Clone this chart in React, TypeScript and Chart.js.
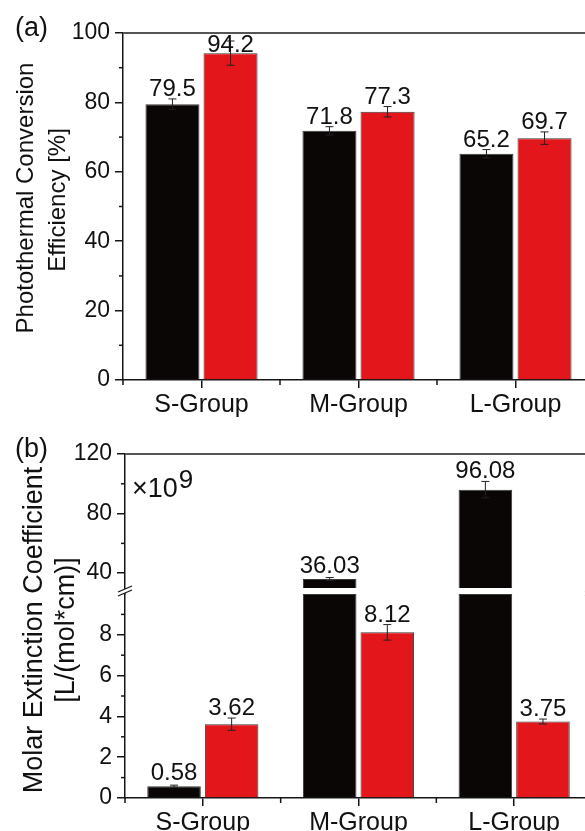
import React, { useEffect, useRef } from 'react';
import { Chart, registerables } from 'chart.js';
Chart.register(...registerables);

// ---------- data ----------
const categories = ['S-Group', 'M-Group', 'L-Group'];

const effBlack = [79.5, 71.8, 65.2];
const effRed = [94.2, 77.3, 69.7];
const effBlackErr = [1.5, 1.2, 1.2];
const effRedErr = [3.5, 1.5, 1.8];
const effMajorTicks = [0, 20, 40, 60, 80, 100];
const effMinorTicks = [10, 30, 50, 70, 90];

const molBlack = [0.58, 36.03, 96.08];
const molRed = [3.62, 8.12, 3.75];
const molBlackErr = [0.05, 1.0, 5.5];
const molRedErr = [0.3, 0.38, 0.12];
const molLowMajorTicks = [0, 2, 4, 6, 8];
const molLowMinorTicks = [1, 3, 5, 7, 9];
const molHighMajorTicks = [40, 80, 120];
const molHighMinorTicks = [60, 100];
const BREAK_LOW = 10;
const BREAK_HIGH = 30;

// ---------- style ----------
const FAMILY = "'Liberation Sans', Arial, sans-serif";
const BLACK = '#0a0605';
const RED = '#e3161b';
const EDGE = '#3a3a3a';
const AXIS = '#161616';
const TEXT = '#111111';
const CW = 600;
const A_H = 418;
const B_H = 413;

const TICK_FONT = 23;
const XLABEL_FONT = 25;
const VALUE_FONT = 24;
const PANEL_FONT = 27;

function axisBase(fontSize: number) {
  return {
    grid: { display: true, drawOnChartArea: false, drawTicks: true, tickLength: 8, color: AXIS, lineWidth: 1.5 },
    border: { display: true, color: AXIS, width: 1.5 },
    ticks: { color: TEXT, font: { family: FAMILY, size: fontSize }, padding: 5, autoSkip: false },
  };
}

function xAxis(height: number) {
  return {
    grid: { display: true, drawOnChartArea: false, drawTicks: true, tickLength: 8, color: AXIS, lineWidth: 1.5, offset: false },
    border: { display: true, color: AXIS, width: 1.5 },
    ticks: { color: TEXT, font: { family: FAMILY, size: XLABEL_FONT }, padding: 2, maxRotation: 0, autoSkip: false },
    afterFit: (s: any) => { s.height = height; },
  };
}

function line(ctx: CanvasRenderingContext2D, x1: number, y1: number, x2: number, y2: number) {
  ctx.beginPath();
  ctx.moveTo(x1, y1);
  ctx.lineTo(x2, y2);
  ctx.stroke();
}

// rotated text: x is the baseline position, y is the centre along the text
function rotatedText(ctx: CanvasRenderingContext2D, text: string, xBase: number, yCenter: number, size: number) {
  ctx.save();
  ctx.translate(xBase, yCenter);
  ctx.rotate(-Math.PI / 2);
  ctx.font = `${size}px ${FAMILY}`;
  ctx.fillStyle = TEXT;
  ctx.textAlign = 'center';
  ctx.textBaseline = 'alphabetic';
  ctx.fillText(text, 0, 0);
  ctx.restore();
}

function errorBar(ctx: CanvasRenderingContext2D, x: number, yTop: number, yBot: number) {
  ctx.save();
  ctx.strokeStyle = '#222';
  ctx.lineWidth = 1;
  line(ctx, x, yTop, x, yBot);
  line(ctx, x - 4, yTop, x + 4, yTop);
  line(ctx, x - 4, yBot, x + 4, yBot);
  ctx.restore();
}

function valueLabel(ctx: CanvasRenderingContext2D, text: string, x: number, barTop: number, errTop: number, areaTop: number) {
  ctx.save();
  ctx.font = `${VALUE_FONT}px ${FAMILY}`;
  ctx.fillStyle = TEXT;
  ctx.textAlign = 'center';
  ctx.textBaseline = 'alphabetic';
  let base = Math.min(barTop - 6, errTop - 3);
  const minBase = areaTop + 2 + VALUE_FONT * 0.72;
  if (base < minBase) base = minBase;
  ctx.fillText(text, x, base);
  ctx.restore();
}

function frameAndXMinor(chart: any) {
  const ctx: CanvasRenderingContext2D = chart.ctx;
  const { left, right, top, bottom } = chart.chartArea;
  ctx.save();
  ctx.strokeStyle = '#555';
  ctx.lineWidth = 2;
  line(ctx, left, top, right, top);
  ctx.strokeStyle = AXIS;
  ctx.lineWidth = 1.5;
  const xs = chart.scales.x;
  for (let i = 0; i <= categories.length; i++) {
    const px = xs.getPixelForValue(i - 0.5);
    line(ctx, px, bottom, px, bottom + 5);
  }
  ctx.restore();
}

function yMinor(chart: any, scaleId: string, values: number[]) {
  const ctx: CanvasRenderingContext2D = chart.ctx;
  const s = chart.scales[scaleId];
  ctx.save();
  ctx.strokeStyle = AXIS;
  ctx.lineWidth = 1.5;
  for (const v of values) {
    const py = s.getPixelForValue(v);
    line(ctx, s.right - 4, py, s.right, py);
  }
  ctx.restore();
}

function panelLabel(ctx: CanvasRenderingContext2D, text: string, x: number, base: number) {
  ctx.save();
  ctx.font = `${PANEL_FONT}px ${FAMILY}`;
  ctx.fillStyle = TEXT;
  ctx.textAlign = 'left';
  ctx.textBaseline = 'alphabetic';
  ctx.fillText(text, x, base);
  ctx.restore();
}

// ---------- panel (a) ----------
function configA(): any {
  const decor = {
    id: 'decorA',
    afterDatasetsDraw(chart: any) {
      const ctx: CanvasRenderingContext2D = chart.ctx;
      const y = chart.scales.y;
      const series = [
        { vals: effBlack, errs: effBlackErr, ds: 0 },
        { vals: effRed, errs: effRedErr, ds: 1 },
      ];
      for (const s of series) {
        const meta = chart.getDatasetMeta(s.ds);
        s.vals.forEach((v, i) => {
          const el = meta.data[i];
          const top = y.getPixelForValue(v);
          const eTop = y.getPixelForValue(v + s.errs[i]);
          const eBot = y.getPixelForValue(v - s.errs[i]);
          errorBar(ctx, el.x, eTop, eBot);
          valueLabel(ctx, v.toFixed(1), el.x, top, eTop, chart.chartArea.top);
        });
      }
    },
    afterDraw(chart: any) {
      const ctx: CanvasRenderingContext2D = chart.ctx;
      frameAndXMinor(chart);
      yMinor(chart, 'y', effMinorTicks);
      rotatedText(ctx, 'Photothermal Conversion', 33, 198, 24);
      rotatedText(ctx, 'Efficiency [%]', 65, 200, 24);
      panelLabel(ctx, '(a)', 15, 36);
    },
  };
  const bar = { borderColor: EDGE, borderWidth: 1, barPercentage: 0.93, categoryPercentage: 0.74 };
  return {
    type: 'bar',
    data: {
      labels: categories,
      datasets: [
        { label: 'black', data: effBlack, backgroundColor: BLACK, ...bar },
        { label: 'red', data: effRed, backgroundColor: RED, ...bar },
      ],
    },
    options: {
      responsive: false,
      animation: false,
      devicePixelRatio: 1,
      layout: { padding: { left: 0, top: 33, right: CW - 594, bottom: 0 } },
      plugins: { legend: { display: false }, tooltip: { enabled: false }, title: { display: false } },
      scales: {
        x: xAxis(A_H - 380),
        y: {
          ...axisBase(TICK_FONT),
          min: 0,
          max: 100,
          afterBuildTicks: (s: any) => { s.ticks = effMajorTicks.map((v) => ({ value: v })); },
          afterFit: (s: any) => { s.width = 123; },
        },
      },
    },
    plugins: [decor],
  };
}

// ---------- panel (b) ----------
function configB(): any {
  const decor = {
    id: 'decorB',
    afterDatasetsDraw(chart: any) {
      const ctx: CanvasRenderingContext2D = chart.ctx;
      const series = [
        { vals: molBlack, errs: molBlackErr, low: 0, high: 2 },
        { vals: molRed, errs: molRedErr, low: 1, high: 3 },
      ];
      for (const s of series) {
        s.vals.forEach((v, i) => {
          const useHigh = v > BREAK_LOW;
          const meta = chart.getDatasetMeta(useHigh ? s.high : s.low);
          const sc = chart.scales[useHigh ? 'yHigh' : 'yLow'];
          const el = meta.data[i];
          const top = sc.getPixelForValue(v);
          const eTop = sc.getPixelForValue(v + s.errs[i]);
          const eBot = sc.getPixelForValue(v - s.errs[i]);
          errorBar(ctx, el.x, eTop, eBot);
          valueLabel(ctx, v.toFixed(2), el.x, top, eTop, chart.chartArea.top);
        });
      }
    },
    afterDraw(chart: any) {
      const ctx: CanvasRenderingContext2D = chart.ctx;
      frameAndXMinor(chart);
      yMinor(chart, 'yLow', molLowMinorTicks);
      yMinor(chart, 'yHigh', molHighMinorTicks);
      const { left, right } = chart.chartArea;
      const yb = (chart.scales.yHigh.getPixelForValue(BREAK_HIGH) + chart.scales.yLow.getPixelForValue(BREAK_LOW)) / 2;
      ctx.save();
      for (const ax of [left, right]) {
        ctx.fillStyle = '#fff';
        ctx.fillRect(ax - 2, yb - 2, 4, 4);
        ctx.strokeStyle = AXIS;
        ctx.lineWidth = 1.3;
        line(ctx, ax - 7, yb + 1, ax + 7, yb - 5);
        line(ctx, ax - 7, yb + 5, ax + 7, yb - 1);
      }
      ctx.restore();
      rotatedText(ctx, 'Molar Extinction Coefficient', 42, 212, 27);
      rotatedText(ctx, '[L/(mol*cm)]', 74, 212, 27);
      panelLabel(ctx, '(b)', 15, 39);
      ctx.save();
      ctx.fillStyle = TEXT;
      ctx.textBaseline = 'alphabetic';
      ctx.textAlign = 'left';
      ctx.font = `27px ${FAMILY}`;
      const base = 79;
      ctx.fillText('\u00d710', 132, base);
      const w = ctx.measureText('\u00d710').width;
      ctx.font = `26px ${FAMILY}`;
      ctx.fillText('9', 132 + w + 1, base - 9);
      ctx.restore();
    },
  };
  const lowBlack = molBlack.map((v) => Math.min(v, BREAK_LOW));
  const lowRed = molRed.map((v) => Math.min(v, BREAK_LOW));
  const highBlack = molBlack.map((v) => (v > BREAK_LOW ? [BREAK_HIGH, v] : null));
  const highRed = molRed.map((v) => (v > BREAK_LOW ? [BREAK_HIGH, v] : null));
  const bar = { borderColor: EDGE, borderWidth: 1, barPercentage: 0.93, categoryPercentage: 0.74 };
  return {
    type: 'bar',
    data: {
      labels: categories,
      datasets: [
        { label: 'black-low', data: lowBlack, yAxisID: 'yLow', stack: 'black', backgroundColor: BLACK, ...bar },
        { label: 'red-low', data: lowRed, yAxisID: 'yLow', stack: 'red', backgroundColor: RED, ...bar },
        { label: 'black-high', data: highBlack, yAxisID: 'yHigh', stack: 'black', backgroundColor: BLACK, ...bar },
        { label: 'red-high', data: highRed, yAxisID: 'yHigh', stack: 'red', backgroundColor: RED, ...bar },
      ],
    },
    options: {
      responsive: false,
      animation: false,
      devicePixelRatio: 1,
      layout: { padding: { left: 0, top: 36, right: CW - 592, bottom: 0 } },
      plugins: { legend: { display: false }, tooltip: { enabled: false }, title: { display: false } },
      scales: {
        x: xAxis(B_H - 380),
        yHigh: {
          ...axisBase(TICK_FONT),
          type: 'linear',
          position: 'left',
          stack: 'mol',
          stackWeight: 140,
          weight: 1,
          min: 26,
          max: 120,
          afterBuildTicks: (s: any) => { s.ticks = molHighMajorTicks.map((v) => ({ value: v })); },
          afterFit: (s: any) => { s.width = 125; },
        },
        yLow: {
          ...axisBase(TICK_FONT),
          type: 'linear',
          position: 'left',
          stack: 'mol',
          stackWeight: 204,
          weight: 0,
          min: 0,
          max: BREAK_LOW,
          afterBuildTicks: (s: any) => { s.ticks = molLowMajorTicks.map((v) => ({ value: v })); },
          afterFit: (s: any) => { s.width = 125; },
        },
      },
    },
    plugins: [decor],
  };
}

export default function App() {
  const refA = useRef<HTMLCanvasElement>(null);
  const refB = useRef<HTMLCanvasElement>(null);
  useEffect(() => {
    const chartA = new Chart(refA.current as HTMLCanvasElement, configA());
    const chartB = new Chart(refB.current as HTMLCanvasElement, configB());
    return () => {
      chartA.destroy();
      chartB.destroy();
    };
  }, []);
  return (
    <div style={{ position: 'absolute', left: 0, top: 0, width: 585, height: 831, overflow: 'hidden', background: '#fff' }}>
      <canvas ref={refA} width={CW} height={A_H} style={{ position: 'absolute', left: 0, top: 0, width: CW, height: A_H }} />
      <canvas ref={refB} width={CW} height={B_H} style={{ position: 'absolute', left: 0, top: A_H, width: CW, height: B_H }} />
    </div>
  );
}
